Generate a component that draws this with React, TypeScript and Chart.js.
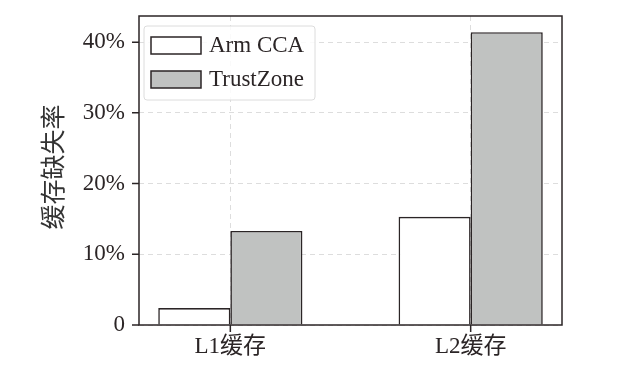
import React, { useEffect, useRef } from "react";
import { Chart, registerables } from "chart.js";

Chart.register(...registerables);

const categories = ["L1缓存", "L2缓存"];
const armCCA = [2.4, 15.3];
const trustZone = [13.3, 41.4];
const yTicks = [0, 10, 20, 30, 40];
const seriesNames = ["Arm CCA", "TrustZone"];

const DARK = "#2b2526";
const GRAY_FILL = "#c0c2c1";
const FONT = "'Liberation Serif', 'Noto Sans CJK SC', serif";

const framePlugin = {
  id: "frame",
  afterDatasetsDraw(chart: any) {
    const { ctx, chartArea } = chart;
    const yScale = chart.scales.y;
    const xScale = chart.scales.x;
    ctx.save();
    ctx.strokeStyle = DARK;
    ctx.lineWidth = 1.5;
    ctx.strokeRect(chartArea.left, chartArea.top, chartArea.right - chartArea.left, chartArea.bottom - chartArea.top);
    // tick marks
    ctx.beginPath();
    yTicks.forEach((v) => {
      const y = yScale.getPixelForValue(v);
      ctx.moveTo(chartArea.left - 7, y);
      ctx.lineTo(chartArea.left, y);
    });
    categories.forEach((_, i) => {
      const x = xScale.getPixelForValue(i);
      ctx.moveTo(x, chartArea.bottom);
      ctx.lineTo(x, chartArea.bottom + 7);
    });
    ctx.stroke();

    // y title
    ctx.fillStyle = "#333";
    ctx.font = `25px ${FONT}`;
    ctx.textAlign = "center";
    ctx.textBaseline = "middle";
    ctx.translate(55, 167);
    ctx.rotate(-Math.PI / 2);
    ctx.fillText("缓存缺失率", 0, 0);
    ctx.restore();

    // legend
    ctx.save();
    const lx = chartArea.left + 5;
    const ly = chartArea.top + 10;
    const lw = 171;
    const lh = 74;
    ctx.beginPath();
    (ctx as any).roundRect(lx, ly, lw, lh, 3);
    ctx.fillStyle = "rgba(255,255,255,0.85)";
    ctx.fill();
    ctx.strokeStyle = "#dcdcdc";
    ctx.lineWidth = 1;
    ctx.stroke();
    const fills = ["#ffffff", GRAY_FILL];
    seriesNames.forEach((name, i) => {
      const sy = ly + 11 + i * 34;
      ctx.fillStyle = fills[i];
      ctx.fillRect(lx + 7, sy, 50, 17);
      ctx.strokeStyle = DARK;
      ctx.lineWidth = 1.5;
      ctx.strokeRect(lx + 7, sy, 50, 17);
      ctx.fillStyle = DARK;
      ctx.font = `23px ${FONT}`;
      ctx.textAlign = "left";
      ctx.textBaseline = "middle";
      ctx.fillText(name, lx + 65, sy + 9);
    });
    ctx.restore();
  },
};

export default function App() {
  const ref = useRef<HTMLCanvasElement>(null);
  useEffect(() => {
    document.body.style.margin = "0";
    const chart = new Chart(ref.current!, {
      type: "bar",
      data: {
        datasets: [
          {
            label: seriesNames[0],
            data: armCCA.map((v, i) => ({ x: i, y: v })),
            backgroundColor: "#ffffff",
            borderColor: DARK,
            borderWidth: 1.6,
            categoryPercentage: 0.6,
            barPercentage: 1,
          },
          {
            label: seriesNames[1],
            data: trustZone.map((v, i) => ({ x: i, y: v })),
            backgroundColor: GRAY_FILL,
            borderColor: DARK,
            borderWidth: 1.6,
            categoryPercentage: 0.6,
            barPercentage: 1,
          },
        ],
      },
      options: {
        responsive: false,
        animation: false,
        layout: { padding: { left: 0, top: 16, right: 57, bottom: 0 } },
        plugins: { legend: { display: false }, tooltip: { enabled: false } },
        scales: {
          x: {
            type: "linear",
            min: -0.38,
            max: 1.38,
            offset: false,
            afterBuildTicks: (s: any) => {
              s.ticks = categories.map((_, i) => ({ value: i }));
            },
            afterFit: (s: any) => {
              s.height = 51;
              s.paddingLeft = 0;
              s.paddingRight = 0;
            },
            ticks: {
              callback: (v: any) => categories[v as number] ?? "",
              font: { family: FONT, size: 23 },
              color: DARK,
              padding: 8,
              maxRotation: 0,
            },
            grid: { color: "#dddddd", drawTicks: false, lineWidth: 1, offset: false },
            border: { display: false, dash: [5, 4] },
          },
          y: {
            min: 0,
            max: 43.7,
            afterBuildTicks: (s: any) => {
              s.ticks = yTicks.map((v) => ({ value: v }));
            },
            afterFit: (s: any) => {
              s.width = 139;
              s.paddingTop = 0;
              s.paddingBottom = 0;
            },
            ticks: {
              callback: (v: any) => (v === 0 ? "0" : `${v}%`),
              font: { family: FONT, size: 23 },
              color: DARK,
              padding: 14,
            },
            grid: { color: "#dddddd", drawTicks: false, lineWidth: 1 },
            border: { display: false, dash: [5, 4] },
          },
        },
      },
      plugins: [framePlugin],
    } as any);
    return () => chart.destroy();
  }, []);
  return <canvas ref={ref} width={619} height={376} style={{ display: "block" }} />;
}
